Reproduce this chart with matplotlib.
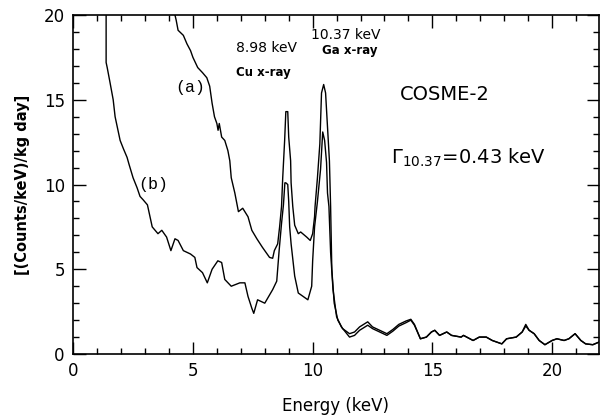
import numpy as np
import matplotlib.pyplot as plt

# spectrum (a): energy (keV) and rate
energy_a = [4.25, 4.3, 4.38, 4.6, 4.75, 4.9, 5.0, 5.2, 5.4, 5.58, 5.7, 5.8, 5.9, 6.0, 6.05,
            6.1, 6.2, 6.33, 6.46, 6.54, 6.6, 6.75, 6.9, 7.08, 7.3, 7.46, 7.67, 7.9, 8.2,
            8.33, 8.4, 8.54, 8.62, 8.7, 8.75, 8.83, 8.88, 8.96, 9.0, 9.08, 9.1, 9.17, 9.25,
            9.4, 9.5, 9.75, 9.9, 10.0, 10.08, 10.1, 10.2, 10.3, 10.37, 10.46, 10.54, 10.62,
            10.7, 10.75, 10.8, 10.9, 11.05, 11.25, 11.54, 11.75, 11.96, 12.3, 12.5, 13.1,
            13.35, 13.6, 13.9, 14.1, 14.25, 14.5, 14.75, 14.96, 15.1, 15.3, 15.6, 15.8,
            16.2, 16.3, 16.7, 16.96, 17.25, 17.5, 17.9, 18.1, 18.5, 18.75, 18.9, 19.04,
            19.25, 19.46, 19.7, 20.0, 20.2, 20.5, 20.7, 20.96, 21.2, 21.4, 21.7, 21.95]
rate_a = [20.0, 19.7, 19.1, 18.8, 18.3, 17.9, 17.5, 16.9, 16.6, 16.3, 15.8, 14.8, 14.0, 13.6,
          13.2, 13.6, 12.8, 12.6, 12.0, 11.4, 10.4, 9.5, 8.4, 8.6, 8.1, 7.3, 6.8, 6.3, 5.7,
          5.65, 6.1, 6.5, 7.5, 8.7, 10.4, 12.6, 14.3, 14.3, 12.8, 11.4, 10.1, 8.7, 7.6,
          7.1, 7.2, 6.9, 6.7, 7.1, 8.1, 8.7, 10.4, 12.4, 15.4, 15.9, 15.4, 13.4,
          11.4, 8.7, 5.0, 3.0, 2.0, 1.5, 1.2, 1.3, 1.6, 1.9, 1.6, 1.2,
          1.45, 1.75, 1.95, 2.05, 1.75, 0.9, 1.0, 1.3, 1.4, 1.1, 1.3, 1.1,
          1.0, 1.1, 0.8, 1.0, 1.0, 0.8, 0.6, 0.9, 1.0, 1.3, 1.65, 1.4,
          1.2, 0.8, 0.55, 0.8, 0.9, 0.8, 0.9, 1.2, 0.8, 0.6, 0.55, 0.7]

# spectrum (b)
energy_b = [1.375, 1.375, 1.42, 1.54, 1.67, 1.75, 1.96, 2.1, 2.25, 2.33, 2.5, 2.67, 2.79, 2.92,
            3.1, 3.3, 3.54, 3.7, 3.9, 4.08, 4.25, 4.38, 4.6, 4.9, 5.08, 5.17, 5.4, 5.6,
            5.8, 6.04, 6.2, 6.33, 6.6, 6.96, 7.17, 7.3, 7.46, 7.54, 7.7, 8.0, 8.33, 8.5,
            8.6, 8.7, 8.78, 8.84, 8.88, 8.96, 9.0, 9.04, 9.1, 9.25, 9.4, 9.6, 9.8, 9.96,
            10.0, 10.08, 10.2, 10.33, 10.42, 10.5, 10.58, 10.62, 10.68, 10.75, 10.85,
            11.0, 11.2, 11.54, 11.75, 11.96, 12.3, 12.5, 13.1, 13.35, 13.6, 13.9, 14.1,
            14.25, 14.5, 14.75, 14.96, 15.1, 15.3, 15.6, 15.8, 16.2, 16.3, 16.7, 16.96,
            17.25, 17.5, 17.9, 18.1, 18.5, 18.75, 18.9, 19.04, 19.25, 19.46, 19.7, 20.0,
            20.2, 20.5, 20.7, 20.96, 21.2, 21.4, 21.7, 21.95]
rate_b = [20.0, 17.2, 16.9, 16.0, 15.0, 14.0, 12.6, 12.1, 11.6, 11.2, 10.4, 9.8, 9.3, 9.1,
          8.8, 7.5, 7.1, 7.3, 6.9, 6.1, 6.8, 6.7, 6.1, 5.9, 5.7, 5.1, 4.8, 4.2,
          5.0, 5.5, 5.4, 4.4, 4.0, 4.2, 4.2, 3.4, 2.7, 2.4, 3.2, 3.0, 3.8, 4.3,
          6.1, 7.7, 8.8, 10.1, 10.1, 10.0, 9.0, 7.5, 6.5, 4.6, 3.6, 3.4, 3.2, 4.0,
          5.5, 7.5, 9.0, 10.9, 13.1, 12.6, 11.3, 9.5, 8.7, 6.0, 3.8,
          2.2, 1.6, 1.0, 1.1, 1.4, 1.7, 1.5, 1.1, 1.35, 1.65, 1.85, 2.0,
          1.7, 0.9, 1.0, 1.3, 1.4, 1.1, 1.3, 1.1, 1.0, 1.1, 0.8, 1.0,
          1.0, 0.8, 0.6, 0.9, 1.0, 1.3, 1.75, 1.4, 1.2, 0.8, 0.55, 0.8,
          0.9, 0.8, 0.9, 1.2, 0.8, 0.6, 0.55, 0.7]

fig = plt.figure(figsize=(6, 4.17), dpi=100)
ax = fig.add_axes([0.122, 0.151, 0.876, 0.813])

ax.plot(energy_a, rate_a, color='black', lw=1.0)
ax.plot(energy_b, rate_b, color='black', lw=1.0)

ax.set_xlim(0, 21.95)
ax.set_ylim(0, 20)
ax.set_xticks([0, 5, 10, 15, 20])
ax.set_xticks(np.arange(0, 22, 1), minor=True)
ax.set_yticks([0, 5, 10, 15, 20])
ax.set_yticks(np.arange(0, 21, 1), minor=True)
ax.tick_params(which='both', direction='in', top=True, right=True, labelsize=12, pad=6)
ax.tick_params(which='major', length=9, width=1)
ax.tick_params(which='minor', length=4.5, width=1)
for s in ax.spines.values():
    s.set_linewidth(1.2)

ax.set_xlabel('Energy (keV)', fontsize=12, labelpad=12)
ax.set_ylabel('[(Counts/keV)/kg day]', fontsize=10.5, fontweight='bold', labelpad=10)

ax.text(8.08, 18.05, '8.98 keV', fontsize=10, ha='center', va='center')
ax.text(7.95, 16.6, 'Cu x-ray', fontsize=8.5, fontweight='bold', ha='center', va='center')
ax.text(11.4, 18.8, '10.37 keV', fontsize=10, ha='center', va='center')
ax.text(11.55, 17.9, 'Ga x-ray', fontsize=8.5, fontweight='bold', ha='center', va='center')
ax.text(15.5, 15.3, 'COSME-2', fontsize=14, ha='center', va='center')
ax.text(16.5, 11.6, r'$\Gamma_{10.37}$=0.43 keV', fontsize=14, ha='center', va='center')
ax.text(4.9, 15.75, '(a)', fontsize=12, family='Liberation Mono', ha='center', va='center')
ax.text(3.35, 10.0, '(b)', fontsize=12, family='Liberation Mono', ha='center', va='center')

fig.savefig('out.png', dpi=100)
